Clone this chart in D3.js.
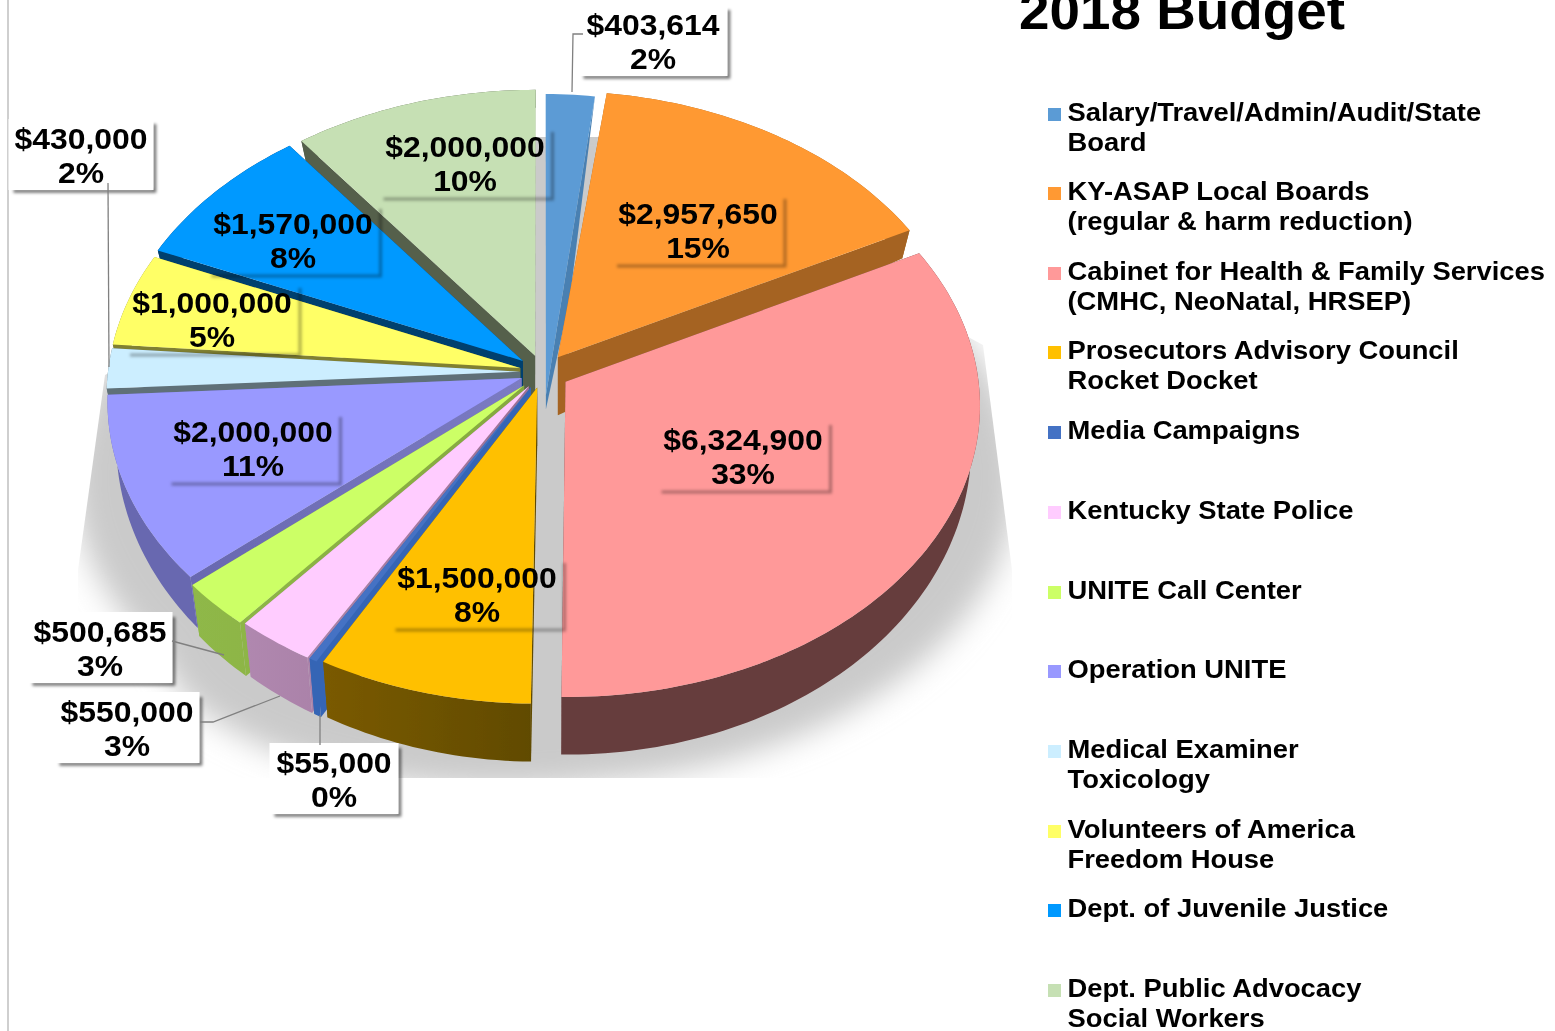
<!DOCTYPE html>
<html><head><meta charset="utf-8">
<script src="https://cdn.jsdelivr.net/npm/d3@7"></script>
<style>html,body{margin:0;background:#fff;overflow:hidden}svg{display:block}text{font-family:"Liberation Sans",Arial,sans-serif;font-weight:700;fill:#000}</style>
</head><body><svg id="c" width="1555" height="1031"></svg>
<script>
// ---- data ----
const categories=["Salary/Travel/Admin/Audit/State Board","KY-ASAP Local Boards (regular & harm reduction)","Cabinet for Health & Family Services (CMHC, NeoNatal, HRSEP)","Prosecutors Advisory Council Rocket Docket","Media Campaigns","Kentucky State Police","UNITE Call Center","Operation UNITE","Medical Examiner Toxicology","Volunteers of America Freedom House","Dept. of Juvenile Justice","Dept. Public Advocacy Social Workers"];
const amounts=[403614,2957650,6324900,1500000,55000,550000,500685,2000000,430000,1000000,1570000,2000000];
const percentLabels=["2%","15%","33%","8%","0%","3%","3%","11%","2%","5%","8%","10%"];
const legendLines=[["Salary/Travel/Admin/Audit/State","Board"],["KY-ASAP Local Boards","(regular & harm reduction)"],["Cabinet for Health & Family Services","(CMHC, NeoNatal, HRSEP)"],["Prosecutors Advisory Council","Rocket Docket"],["Media Campaigns"],["Kentucky State Police"],["UNITE Call Center"],["Operation UNITE"],["Medical Examiner","Toxicology"],["Volunteers of America","Freedom House"],["Dept. of Juvenile Justice"],["Dept. Public Advocacy","Social Workers"]];
const titleText="2018 Budget";
// ---- style and layout ----
const topColors=["#5b9bd5","#ff9933","#ff9999","#ffc000","#4472c4","#ffccff","#ccff66","#9999ff","#cceeff","#ffff66","#0099ff","#c6e0b4"];
const wallColors=[["#4a80b2","#4a80b2"],["#a56420","#a56420"],["#663c3c","#663c3c"],["#8a6400","#604a00"],["#3565b5","#3565b5"],["#b48cb4","#9a7095"],["#8fb848","#85a83f"],["#6868b0","#7c7cc4"],["#5f7078","#5f7078"],["#808030","#808030"],["#003f6e","#003f6e"],["#55604b","#55604b"]];
const explodeAmount=[0,.063,.064,.055,.06,.06,.065,.056,.056,.057,.062,.06];
const labelCenterX=[653,698,743,477,334,127,100,253,81,212,293,465];
const labelBoxW=[149,172,173,173,129,145,145,173,145,174,173,173];
const labelBoxTop=[5,194,420,558,743,692,612,412,119,283,204,127];
const labelOutside=[1,0,0,0,1,1,1,0,1,0,0,0];
const legendTop=[121,200,280,359,439,519,599,678,758,838,917,997];
const leaders=[[[583,34],[573,34],[572,92]],[[108,183],[109,367]],[[172,641],[224,655]],[[200,722],[213,722],[280,696]],[[320,715],[320,745]]];
const shadowOutline=[[530,137],[600,137],[983,345],[1012,570],[1012,778],[78,778],[78,570],[105,375]];
const cx=543,cy=372,RX=412,RY=289,PERSP=.078,fmt=d3.format("$,");

const svg=d3.select("#c");
const defs=svg.append("defs");
const blur=(id,s)=>defs.append("filter").attr("id",id).attr("x","-20%").attr("y","-20%").attr("width","140%").attr("height","140%").append("feGaussianBlur").attr("stdDeviation",s);
blur("shadowBlur",15);blur("boxBlur",1.7);blur("soft",.45);
const line=d3.line();
defs.append("clipPath").attr("id","shadowClip").append("path").attr("d",line(shadowOutline)+"Z");
wallColors.forEach((c,i)=>{const g=defs.append("linearGradient").attr("id","wall"+i).attr("gradientUnits","userSpaceOnUse").attr("x1",190).attr("x2",540).attr("y1",0).attr("y2",0);
  g.append("stop").attr("offset",0).attr("stop-color",c[0]);g.append("stop").attr("offset",1).attr("stop-color",c[1]);});

const project=(U,V)=>{const s=1/(1-PERSP*V);return [cx+RX*U*s,cy+RY*V*s];};
const pieGen=d3.pie().sort(null).startAngle(0).endAngle(2*Math.PI).value(d=>d);
const arcs=pieGen(amounts);
const slices=arcs.map((a,i)=>{
  const mid=(a.startAngle+a.endAngle)/2;
  const salary=i===0;
  const radius=salary?1.12:1, narrow=salary?.88:1;
  const dx=salary?.007:explodeAmount[i]*Math.sin(mid);
  const dy=salary?.08:-explodeAmount[i]*Math.cos(mid);
  const topP=(r,t)=>project(narrow*r*radius*Math.sin(t)+dx,-r*radius*Math.cos(t)+dy);
  const botP=(r,t)=>{const U=r*radius*Math.sin(t)+dx,V=-r*radius*Math.cos(t)+dy;const p=project(U,V);
    const h=58*(1-r)+r*(38+19*V);return [cx+(p[0]-cx)*(1-.02*r),p[1]+h];};
  const n=Math.max(2,Math.ceil((a.endAngle-a.startAngle)/.02));
  const ts=d3.range(n+1).map(k=>a.startAngle+(a.endAngle-a.startAngle)*k/n);
  return {i,a,mid,topP,botP,ts,depth:-Math.cos(mid)};
}).sort((p,q)=>p.depth-q.depth);

// soft ground shadow
const sh=svg.append("g").attr("clip-path","url(#shadowClip)").append("g").attr("filter","url(#shadowBlur)").attr("fill","#cacaca");
sh.append("ellipse").attr("cx",545).attr("cy",478).attr("rx",472).attr("ry",306);
sh.append("ellipse").attr("cx",500).attr("cy",640).attr("rx",340).attr("ry",148);
sh.append("rect").attr("x",500).attr("y",110).attr("width",130).attr("height",300);
// frame line
svg.append("rect").attr("x",7).attr("y",0).attr("width",2).attr("height",1031).attr("fill","#cfcfcf");

const pie=svg.append("g").attr("filter","url(#soft)");
slices.forEach(s=>{
  const g=pie.append("g");
  const wall="url(#wall"+s.i+")";
  const A=s.topP(0,0),Ab=s.botP(0,0);
  if(s.i===0){
    const C=s.topP(1,s.a.endAngle);
    const k=.67,M=[C[0]+(A[0]-C[0])*k+8,C[1]+(A[1]-C[1])*k];
    g.append("path").attr("d",line([C,M,[A[0],A[1]+14],A])+"Z").attr("fill",wall);
  } else {
    [s.a.startAngle,s.a.endAngle].forEach(t=>{
      g.append("path").attr("d",line([A,s.topP(1,t),s.botP(1,t),Ab])+"Z").attr("fill",wall);
    });
    g.append("path").attr("d",line(s.ts.map(t=>s.topP(1,t)).concat(s.ts.slice().reverse().map(t=>s.botP(1,t))))+"Z").attr("fill",wall);
  }
  g.append("path").attr("d",line([A].concat(s.ts.map(t=>s.topP(1,t))))+"Z").attr("fill",topColors[s.i]);
});

// data labels
const labels=svg.append("g");
const LH=71;
amounts.forEach((v,i)=>{
  const w=labelBoxW[i],x0=labelCenterX[i]-w/2,y0=labelBoxTop[i];
  const g=labels.append("g");
  const out=labelOutside[i];
  const shade=g.append("g").attr("filter","url(#boxBlur)").attr("stroke","#000").attr("stroke-opacity",out?.55:.32).attr("stroke-width",out?3.5:3).attr("fill","none");
  shade.append("path").attr("d",line([[x0+5,y0+LH+1],[x0+w+1,y0+LH+1],[x0+w+1,y0+5]]));
  if(out) g.append("rect").attr("x",x0).attr("y",y0).attr("width",w).attr("height",LH).attr("fill","#fff");
  const t=g.append("g").attr("filter","url(#soft)");
  [fmt(v),percentLabels[i]].forEach((s,k)=>t.append("text").attr("transform",`translate(${labelCenterX[i]},${y0+30+k*34}) scale(1.08,1)`).attr("text-anchor","middle").attr("font-size",29.5).text(s));
});
// leader lines
leaders.forEach(l=>svg.append("path").attr("d",line(l)).attr("fill","none").attr("stroke","#808080").attr("stroke-width",1.3));

// title
svg.append("text").attr("transform","translate(1019,29) scale(1.075,1)").attr("font-size",51).attr("filter","url(#soft)").text(titleText);
// legend
const legend=svg.append("g");
legendLines.forEach((ls,i)=>{
  const y=legendTop[i];
  legend.append("rect").attr("x",1048).attr("y",y-13).attr("width",13).attr("height",13).attr("fill",topColors[i]);
  ls.forEach((s,k)=>legend.append("text").attr("transform",`translate(1067.5,${y+k*29.5}) scale(1.078,1)`).attr("font-size",25.4).attr("filter","url(#soft)").text(s));
});
</script></body></html>
